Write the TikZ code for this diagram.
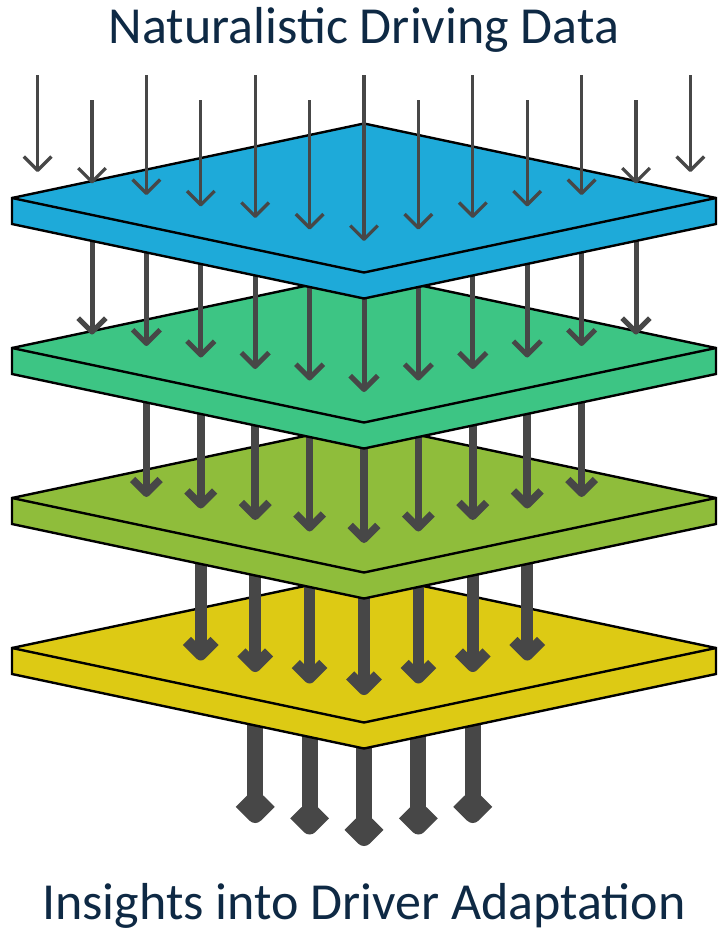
\documentclass[tikz,border=0pt]{standalone}
\usepackage{fontspec}
\setmainfont{Carlito}
\definecolor{plateA}{HTML}{1EAAD9}
\definecolor{plateB}{HTML}{3DC584}
\definecolor{plateC}{HTML}{8FBD3B}
\definecolor{plateD}{HTML}{DDCA14}
\definecolor{arrowgray}{HTML}{474747}
\definecolor{titleblue}{HTML}{0E2944}
\tikzset{
  plate/.style={draw=black, line width=2.4pt},
  flow/.style={draw=arrowgray, line cap=butt, line join=round},
  title/.style={font=\fontsize{52}{62}\selectfont, text=titleblue, anchor=base, inner sep=0pt}
}
% #1 mid y, #2 fill colour
\newcommand\layerplate[2]{%
  \draw[plate, fill=#2] (12,#1) -- (364,{#1-74.5}) -- (716,#1) -- (716,{#1+26})
     -- (364,{#1+100.5}) -- (12,{#1+26}) -- cycle;
  \draw[plate] (12,#1) -- (364,{#1+74.5}) -- (716,#1);
}
% #1 n, #2 tip y at centre, #3 line width, #4 start y expression
\newcommand\flowrow[4]{%
  \foreach \i in {-#1,...,#1}{
    \pgfmathsetmacro\xx{364+54.4*\i}
    \pgfmathsetmacro\vv{#2-11.5*abs(\i)-#3/2}
    \pgfmathsetmacro\ss{#4}
    \draw[flow, line width=#3pt] (\xx,\ss) -- (\xx,\vv);
    \draw[flow, line width=#3pt] ({\xx-13.8},{\vv-13.8}) -- (\xx,\vv) -- ({\xx+13.8},{\vv-13.8});
  }
}
\begin{document}
\begin{tikzpicture}[x=1pt,y=-1pt]
\useasboundingbox (0,0) rectangle (718,935);
\flowrow{2}{846}{16}{661}
\layerplate{648}{plateD}
\flowrow{3}{695}{11.5}{511}
\layerplate{498}{plateC}
\flowrow{4}{543}{7.5}{361}
\layerplate{348}{plateB}
\flowrow{5}{392}{5}{211}
\layerplate{198}{plateA}
\flowrow{6}{241}{3.3}{ifthenelse(mod(abs(\i),2)==0,75,100)}
\node[title] (toptitle) at (364,43) {Naturalistic Driving Data};
\node[title] (bottomtitle) at (364,919) {Insights into Driver Adaptation};
\end{tikzpicture}
\end{document}
